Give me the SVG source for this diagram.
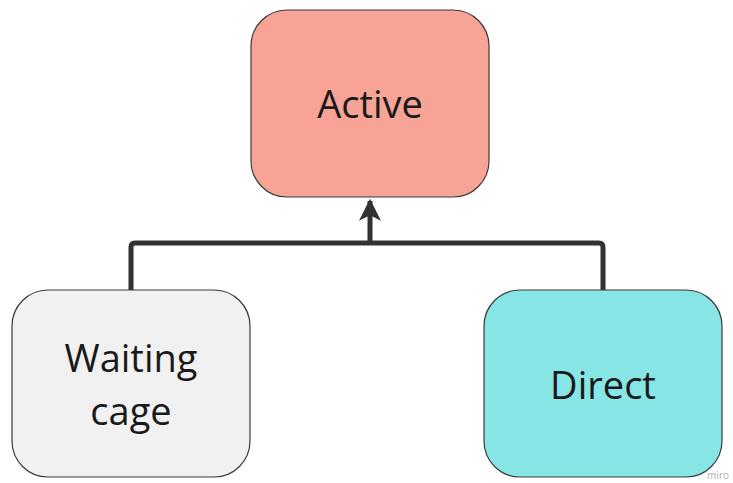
<svg xmlns="http://www.w3.org/2000/svg" width="733" height="483" viewBox="0 0 733 483">
<style>
.box{stroke:#3a3a3a;stroke-width:1.2}
.lbl{font-family:"Open Sans","Noto Sans",sans-serif;font-size:38px;fill:#1a1a1a;text-anchor:middle}
.conn{fill:none;stroke:#333333;stroke-width:5;stroke-linejoin:round}
</style>
<defs>
<marker id="arr" viewBox="0 0 10 10" refX="9" refY="5" markerWidth="4.4" markerHeight="4.4" orient="auto" markerUnits="strokeWidth">
<path d="M0,0 L10,5 L0,10 L2.5,5 z" fill="#333333"/>
</marker>
</defs>
<rect width="733" height="483" fill="#ffffff"/>
<g id="connectors">
<path class="conn" d="M131,290 V247 Q131,243 135,243 H599 Q603,243 603,247 V290"/>
<path class="conn" d="M370,243 V201" marker-end="url(#arr)"/>
</g>
<g id="active">
<rect class="box" x="251" y="10" width="238" height="187" rx="36" fill="#f7a496"/>
<text class="lbl" x="370" y="118">Active</text>
</g>
<g id="waiting">
<rect class="box" x="12" y="290" width="238" height="187" rx="36" fill="#f1f1f1"/>
<text class="lbl" x="131" y="372">Waiting</text>
<text class="lbl" x="131" y="425">cage</text>
</g>
<g id="direct">
<rect class="box" x="484" y="290" width="238" height="187" rx="36" fill="#88e5e5"/>
<text class="lbl" x="603" y="399">Direct</text>
</g>
<text x="729" y="479" font-family="Open Sans, sans-serif" font-size="10" fill="#b0b0b0" text-anchor="end">miro</text>
</svg>
